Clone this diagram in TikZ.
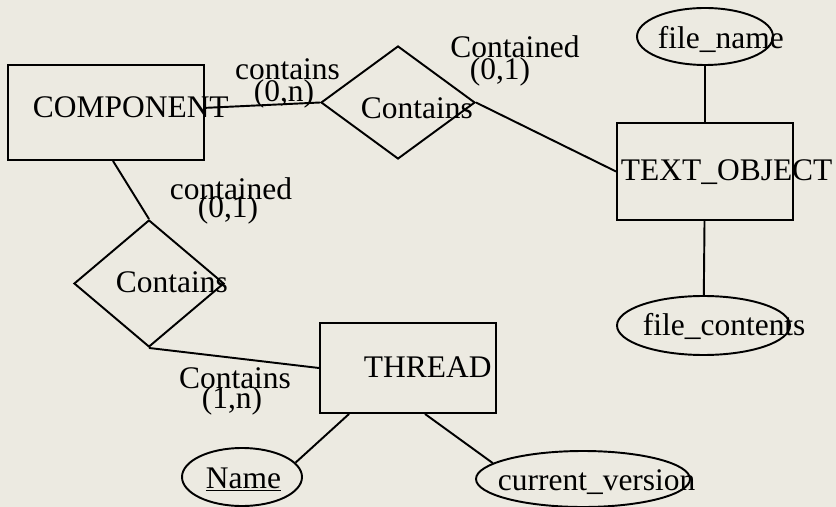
\documentclass[tikz,border=0pt]{standalone}
\usepackage{fontspec}
\setmainfont{Liberation Serif}
\usepackage{xcolor}
\usetikzlibrary{shapes.geometric}
\definecolor{paper}{RGB}{236,234,225}
\tikzset{
	entity/.style={draw, rectangle, inner sep=0pt},
	relship/.style={draw, diamond, inner sep=0pt},
	attrib/.style={draw, ellipse, inner sep=0pt},
	txt/.style={inner sep=0pt, anchor=base west},
	card/.style={inner sep=0pt, anchor=base}
}

\begin{document}
\begin{tikzpicture}[line width=1.1pt, font=\fontsize{17.9}{21}\selectfont]
    \fill[paper] (0,0) rectangle (16.72,-10.14);
    \useasboundingbox (0,0) rectangle (16.72,-10.14);
    % entities
    \node[entity, minimum width=3.92cm, minimum height=1.9cm] (comp) at (2.12,-2.25) {};
    \node[entity, minimum width=3.52cm, minimum height=1.94cm] (textobj) at (14.10,-3.43) {};
    \node[entity, minimum width=3.52cm, minimum height=1.8cm] (thread) at (8.16,-7.36) {};
    \node[txt] (comp-t) at (0.64,-2.36) {COMPONENT};
    \node[txt] (textobj-t) at (12.40,-3.62) {TEXT\_OBJECT};
    \node[txt] (thread-t) at (7.26,-7.54) {THREAD};
    % relationships
    \node[relship, minimum width=3.08cm, minimum height=2.26cm] (d1) at (7.96,-2.05) {};
    \node[relship, minimum width=3.0cm, minimum height=2.54cm] (d2) at (2.98,-5.67) {};
    \node[txt] (d1-t) at (7.20,-2.38) {Contains};
    \node[txt] (d2-t) at (2.30,-5.86) {Contains};
    % attributes
    \node[attrib, minimum width=2.72cm, minimum height=1.14cm] (fname) at (14.10,-0.73) {};
    \node[attrib, minimum width=3.46cm, minimum height=1.18cm] (fcont) at (14.07,-6.51) {};
    \node[attrib, minimum width=2.4cm, minimum height=1.16cm] (name) at (4.84,-9.54) {};
    \node[attrib, minimum width=4.28cm, minimum height=1.12cm] (cver) at (11.66,-9.58) {};
    \node[txt] (fname-t) at (13.14,-0.98) {file\_name};
    \node[txt] (fcont-t) at (12.84,-6.70) {file\_contents};
    \node[txt] (name-t) at (4.10,-9.76) {\underline{Name}};
    \node[txt] (cver-t) at (9.94,-9.80) {current\_version};
    % role names and cardinalities
    \node[card] (r1) at (5.75,-1.60) {contains};
    \node[card] (c1) at (5.68,-2.04) {(0,n)};
    \node[card] (r2) at (10.30,-1.16) {Contained};
    \node[card] (c2) at (10.00,-1.60) {(0,1)};
    \node[card] (r3) at (4.62,-4.00) {contained};
    \node[card] (c3) at (4.56,-4.36) {(0,1)};
    \node[card] (r4) at (4.70,-7.76) {Contains};
    \node[card] (c4) at (4.64,-8.16) {(1,n)};
    % connectors
    \draw (comp) -- (d1.west);
    \draw (d1.east) -- (textobj.west);
    \draw (fname) -- (textobj);
    \draw (textobj) -- (fcont);
    \draw ([xshift=0.14cm]comp.south) -- (d2.north);
    \draw (d2.south) -- (thread.west);
    \draw ([xshift=0.6cm]thread.south west) -- (name.15);
    \draw ([xshift=0.34cm]thread.south) -- (cver.170);
\end{tikzpicture}
\end{document}
